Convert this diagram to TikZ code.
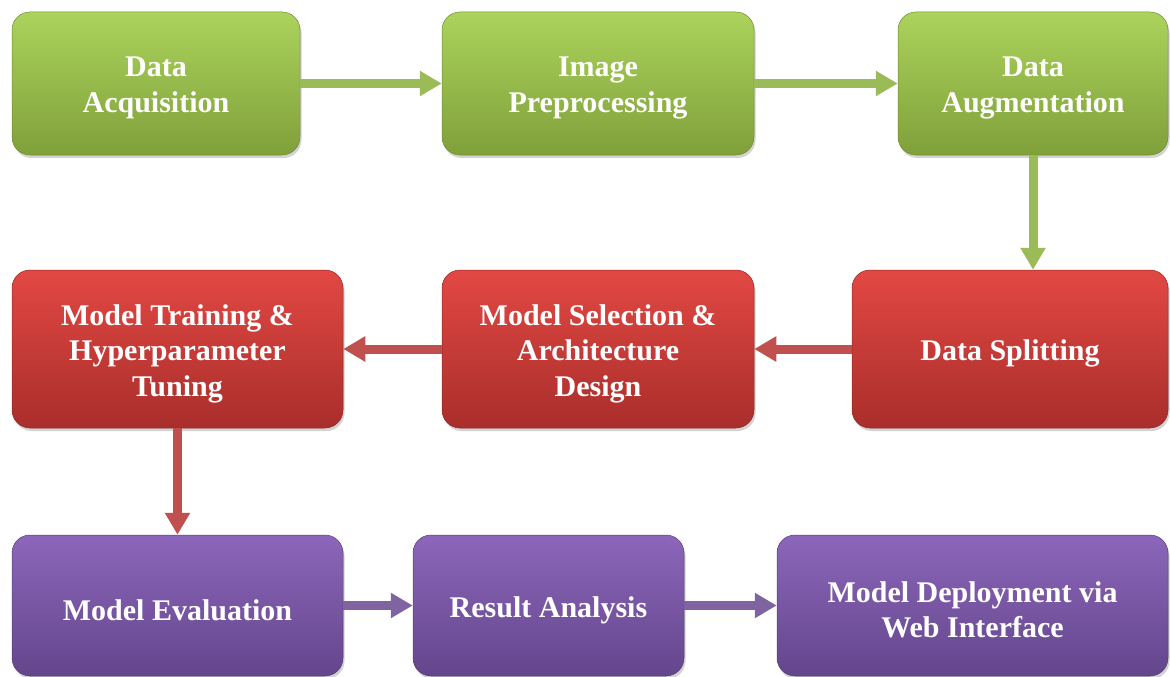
\documentclass[tikz,border=0pt]{standalone}
\usepackage{fontspec}
\setmainfont{Liberation Serif}
\usetikzlibrary{arrows.meta,shadows}
\definecolor{gTop}{HTML}{ABD35C}
\definecolor{gBot}{HTML}{80A03A}
\definecolor{rTop}{HTML}{E24843}
\definecolor{rBot}{HTML}{A92E2B}
\definecolor{pTop}{HTML}{8C66BA}
\definecolor{pBot}{HTML}{64468C}
\definecolor{gArr}{HTML}{9BBB59}
\definecolor{rArr}{HTML}{C0504D}
\definecolor{pArr}{HTML}{8064A2}
\tikzset{
  boxtext/.style={align=center, text=white, inner sep=0pt, yshift=-4.5pt,
    font=\bfseries\fontsize{30}{35.5}\selectfont},
  txt/.style={label={[boxtext]center:#1}},
  box/.style={rounded corners=18pt, inner sep=0pt,
    drop shadow={opacity=0.35, shadow xshift=1.5pt, shadow yshift=-3pt}},
  gbox/.style={box, top color=gTop, bottom color=gBot, draw=gBot!85!black, line width=0.5pt},
  rbox/.style={box, top color=rTop, bottom color=rBot, draw=rBot!85!black, line width=0.5pt},
  pbox/.style={box, top color=pTop, bottom color=pBot, draw=pBot!85!black, line width=0.5pt},
  flow/.style={line width=9pt, -{Triangle[width=24pt,length=22pt]}},
}
\begin{document}
\begin{tikzpicture}[x=1pt,y=-1pt]
\useasboundingbox (0,0) rectangle (1170,677);
% row 1
\node[gbox, minimum width=288pt, minimum height=143pt, txt={Data\\Acquisition}] (A1) at (156,83.5) {};
\node[gbox, minimum width=312pt, minimum height=143pt, txt={Image\\Preprocessing}] (A2) at (598,83.5) {};
\node[gbox, minimum width=270pt, minimum height=143pt, txt={Data\\Augmentation}] (A3) at (1033,83.5) {};
% row 2
\node[rbox, minimum width=331pt, minimum height=158pt, txt={Model Training \&\\Hyperparameter\\Tuning}] (B1) at (177.5,349) {};
\node[rbox, minimum width=312pt, minimum height=158pt, txt={Model Selection \&\\Architecture\\Design}] (B2) at (598,349) {};
\node[rbox, minimum width=316pt, minimum height=158pt, txt={Data Splitting}] (B3) at (1010,349) {};
% row 3
\node[pbox, minimum width=331pt, minimum height=141pt, txt={Model Evaluation}] (C1) at (177.5,605.5) {};
\node[pbox, minimum width=271pt, minimum height=141pt, txt={Result Analysis}] (C2) at (548.5,605.5) {};
\node[pbox, minimum width=391pt, minimum height=141pt, txt={Model Deployment via\\Web Interface}] (C3) at (972.5,605.5) {};
% arrows
\draw[flow, gArr] (A1.east) -- (A2.west);
\draw[flow, gArr] (A2.east) -- (A3.west);
\draw[flow, gArr] (A3.south) -- (A3.south |- B3.north);
\draw[flow, rArr] (B3.west) -- (B2.east);
\draw[flow, rArr] (B2.west) -- (B1.east);
\draw[flow, rArr] (B1.south) -- (C1.north);
\draw[flow, pArr] (C1.east) -- (C2.west);
\draw[flow, pArr] (C2.east) -- (C3.west);
\end{tikzpicture}
\end{document}
